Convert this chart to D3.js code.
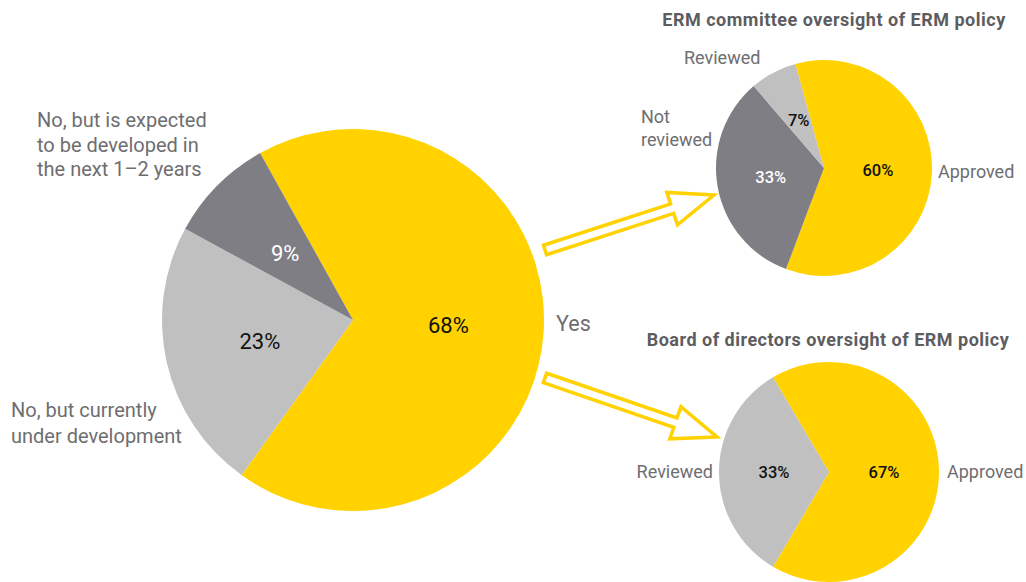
<!DOCTYPE html>
<html>
<head>
<meta charset="utf-8">
<script src="https://cdn.jsdelivr.net/npm/d3@7"></script>
<style>
  html, body { margin: 0; padding: 0; background: #fff; }
  svg { display: block; }
  text { font-family: Roboto, "Open Sans", sans-serif; }
</style>
</head>
<body>
<svg id="chart" width="1026" height="582"></svg>
<script>
// Main question: does the organisation have an ERM policy?
const mainCategories = ["Yes", "No, but currently under development", "No, but is expected to be developed in the next 1–2 years"];
const mainValues = [68, 23, 9];

// Oversight of the ERM policy by the ERM committee
const committeeTitle = "ERM committee oversight of ERM policy";
const committeeCategories = ["Approved", "Not reviewed", "Reviewed"];
const committeeValues = [60, 33, 7];

// Oversight of the ERM policy by the board of directors
const boardTitle = "Board of directors oversight of ERM policy";
const boardCategories = ["Approved", "Reviewed"];
const boardValues = [67, 33];

const YELLOW = "#FFD200", DARK = "#7f7e84", LIGHT = "#c0c0c0";
const LABEL_GREY = "#6e6e70", TITLE_GREY = "#5d5d5f";
const deg = Math.PI / 180;

const svg = d3.select("#chart");

function drawPie(opts) {
  const { cx, cy, r, cats, vals, colors, start, valueFill, fontSize, weight } = opts;
  const pie = d3.pie().sort(null).value(d => d.v)
    .startAngle(start * deg).endAngle(start * deg + 2 * Math.PI);
  const arcs = pie(cats.map((c, i) => ({ c, v: vals[i], i })));
  const arc = d3.arc().innerRadius(0).outerRadius(r);
  const lab = d3.arc().innerRadius(r * 0.5).outerRadius(r * 0.5);
  const g = svg.append("g").attr("transform", `translate(${cx},${cy})`);
  g.selectAll("path").data(arcs).join("path")
    .attr("d", arc)
    .attr("fill", d => colors[d.index]);
  g.selectAll("text.val").data(arcs).join("text")
    .attr("class", "val")
    .attr("transform", d => { const p = lab.centroid(d); return `translate(${p[0]},${p[1]})`; })
    .attr("text-anchor", "middle")
    .attr("dy", "0.36em")
    .attr("font-size", fontSize)
    .attr("font-weight", weight)
    .attr("fill", d => valueFill[d.index])
    .text(d => d.data.v + "%");
  return g;
}

function label(lines, x, y, anchor, size, lh) {
  const t = svg.append("text")
    .attr("x", x).attr("y", y)
    .attr("text-anchor", anchor)
    .attr("font-size", size)
    .attr("fill", LABEL_GREY);
  lines.forEach((l, i) => t.append("tspan").attr("x", x).attr("dy", i ? lh : 0).text(l));
}

function title(txt, x, y) {
  svg.append("text").attr("x", x).attr("y", y).attr("text-anchor", "middle")
    .attr("font-size", 18).attr("font-weight", "bold")
    .attr("letter-spacing", 0.5)
    .attr("fill", TITLE_GREY).text(txt);
}

// Hollow block arrow from (x1,y1) to its tip at (x2,y2)
function arrow(x1, y1, x2, y2) {
  const len = Math.hypot(x2 - x1, y2 - y1);
  const ang = Math.atan2(y2 - y1, x2 - x1) / deg;
  const sw = 5, hw = 17, hl = 44;
  const pts = [[0, -sw], [len - hl, -sw], [len - hl, -hw], [len, 0], [len - hl, hw], [len - hl, sw], [0, sw]];
  svg.append("path")
    .attr("transform", `translate(${x1},${y1}) rotate(${ang})`)
    .attr("d", d3.line()(pts) + "Z")
    .attr("fill", "#fff")
    .attr("stroke", YELLOW)
    .attr("stroke-width", 3.5)
    .attr("stroke-linejoin", "miter");
}

// Main pie
drawPie({
  cx: 353, cy: 320, r: 191,
  cats: mainCategories, vals: mainValues,
  colors: [YELLOW, LIGHT, DARK],
  valueFill: ["#111", "#111", "#fff"],
  start: -29.1, fontSize: 22, weight: 400
});
label(["Yes"], 556, 331, "start", 21.5, 0);
label(["No, but currently", "under development"], 11, 417, "start", 20, 25.5);
label(["No, but is expected", "to be developed in", "the next 1–2 years"], 37, 127, "start", 20, 24.5);

// Committee pie
title(committeeTitle, 834, 26);
drawPie({
  cx: 824, cy: 168, r: 108,
  cats: committeeCategories, vals: committeeValues,
  colors: [YELLOW, DARK, LIGHT],
  valueFill: ["#111", "#fff", "#111"],
  start: -15.4, fontSize: 16.5, weight: 500
});
label(["Reviewed"], 684, 64, "start", 18, 0);
label(["Not", "reviewed"], 641, 123, "start", 18, 23);
label(["Approved"], 938, 178, "start", 18, 0);

// Board pie
title(boardTitle, 828, 346);
drawPie({
  cx: 829, cy: 472, r: 110,
  cats: boardCategories, vals: boardValues,
  colors: [YELLOW, LIGHT],
  valueFill: ["#111", "#111"],
  start: -30.6, fontSize: 16.5, weight: 500
});
label(["Reviewed"], 713, 478, "end", 18, 0);
label(["Approved"], 947, 478, "start", 18, 0);

// Arrows linking "Yes" to the two oversight breakdowns
arrow(545, 250, 714, 195);
arrow(545, 378, 717, 437);
</script>
</body>
</html>
